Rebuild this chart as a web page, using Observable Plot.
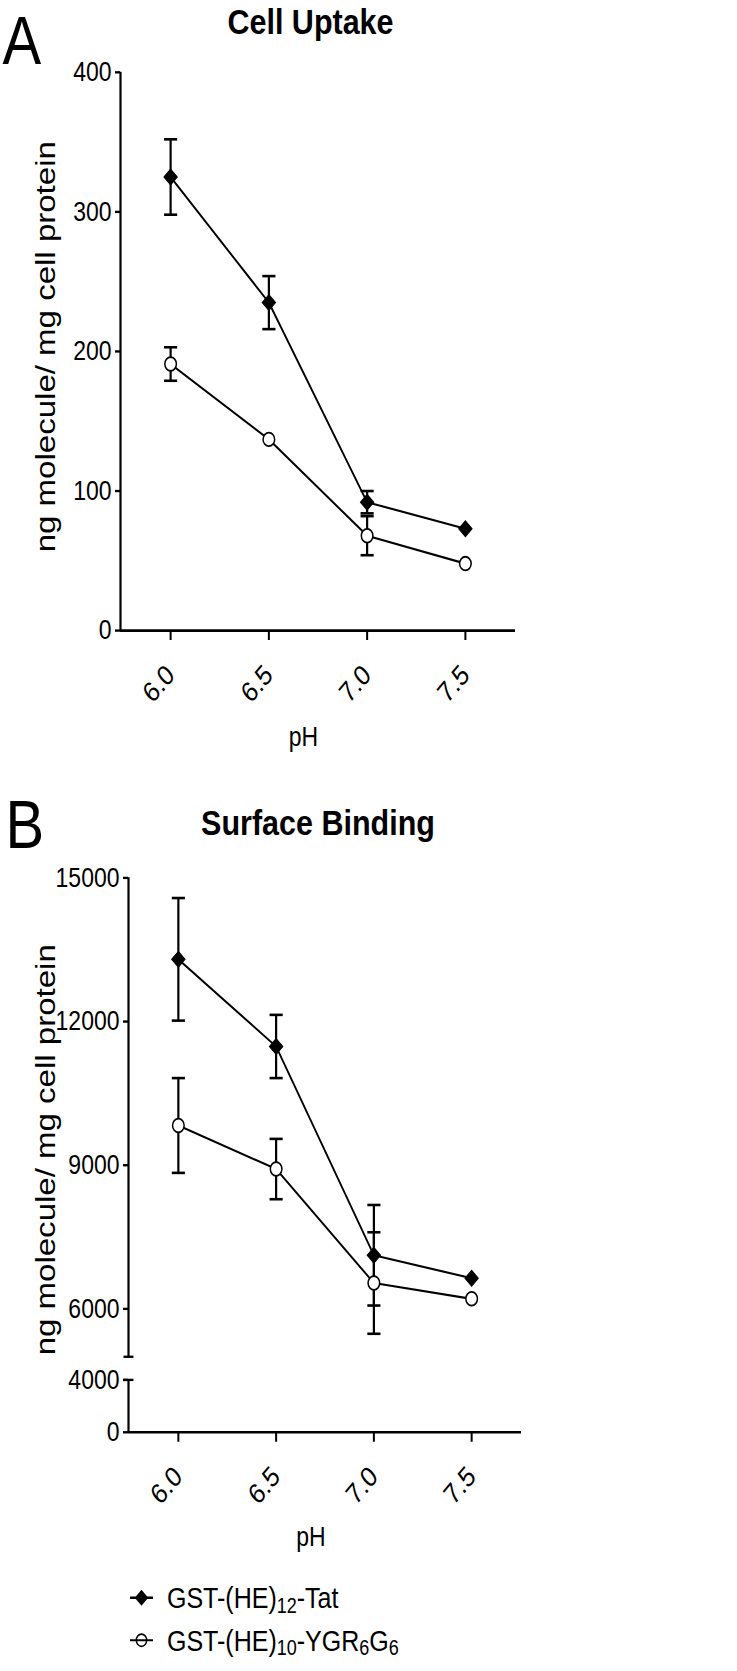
<!DOCTYPE html>
<html>
<head>
<meta charset="utf-8">
<script src="https://cdn.jsdelivr.net/npm/d3@7"></script>
<script src="https://cdn.jsdelivr.net/npm/@observablehq/plot@0.6"></script>
<style>
  html, body { margin: 0; padding: 0; background: #fff; }
  #page { position: relative; width: 737px; height: 1671px; overflow: hidden; }
  #wrap { position: absolute; left: 0; top: 0; width: 737px; height: 1416px; transform: scale(1, 1.18); transform-origin: 0 0;
          font-family: "Liberation Sans", Arial, Helvetica, sans-serif; color: #000; }
  #pa, #pb { position: absolute; left: 0; }
  #pa { top: 0; }
  #pb { top: 661px; }
  .lrow { position: absolute; left: 129px; height: 30px; display: flex; align-items: center; white-space: nowrap; color: #000; }
  .lrow span { font-size: 25px; line-height: 30px; margin-left: 13px; }
  .lrow sub { font-size: 0.72em; vertical-align: -0.22em; line-height: 0; }
  #err { position: absolute; left: 0; top: 0; color: red; font-size: 12px; }
</style>
</head>
<body>
<div id="page">
<div id="wrap">
  <div id="pa"></div>
  <div id="pb"></div>
  <div class="lrow" style="top:1339px">
    <svg width="25" height="30"><line x1="1" x2="24" y1="15" y2="15" stroke="#000" stroke-width="2"/><polygon points="12.5,8.3 19.2,15 12.5,21.7 5.8,15" fill="#000"/></svg>
    <span id="lg0"></span>
  </div>
  <div class="lrow" style="top:1375px">
    <svg width="25" height="30"><line x1="1" x2="24" y1="15" y2="15" stroke="#000" stroke-width="1.6"/><circle cx="12.5" cy="15" r="5.2" fill="none" stroke="#000" stroke-width="1.4"/></svg>
    <span id="lg1"></span>
  </div>
  <div id="err"></div>
</div>
</div>
<script>
// ---------- data ----------
const pH = [6.0, 6.5, 7.0, 7.5];
const seriesNames = ["GST-(HE)12-Tat", "GST-(HE)10-YGR6G6"];
const legendLabels = ["GST-(HE)<sub>12</sub>-Tat", "GST-(HE)<sub>10</sub>-YGR<sub>6</sub>G<sub>6</sub>"];

// Panel A: Cell Uptake (ng molecule / mg cell protein)
const uptakeTat    = [325, 235, 92, 73];
const uptakeTatErr = [27, 19, 8, 0];
const uptakeYgr    = [191, 137, 68, 48];
const uptakeYgrErr = [12, 0, 14, 0];
const uptakeTicks  = [0, 100, 200, 300, 400];

// Panel B: Surface Binding
const bindingTat    = [13300, 11480, 7120, 6640];
const bindingTatErr = [1280, 660, 1050, 0];
const bindingYgr    = [9830, 8920, 6540, 6210];
const bindingYgrErr = [990, 630, 1060, 0];
const bindingTicks  = [0, 4000, 6000, 9000, 12000, 15000];
const bindingBreak  = [4000, 5000];                 // axis gap
const bindingSegments = [[0, 4000], [5000, 15000]];
const lowerCompression = 0.2735;                    // 0–4000 segment is drawn compressed
const gapUnits = 483;                               // visual size of the gap (upper-segment units)

const titles = ["Cell Uptake", "Surface Binding"];
const letters = ["A", "B"];
const xLabel = "pH";
const yLabel = "ng molecule/ mg cell protein";
const pHDomain = [5.745, 7.755];

// ---------- helpers ----------
const FONT = '"Liberation Sans", Arial, Helvetica, sans-serif';
const capSymbol = {draw(ctx, size) { const w = Math.sqrt(size); ctx.moveTo(-w, 0); ctx.lineTo(w, 0); }};
const fmtInt = d3.format("d");

function seriesRows(vals, errs, s) {
  return pH.map((x, i) => ({pH: x, value: vals[i], err: errs[i], series: s}));
}

function dataMarks(tat, ygr) {
  const all = [...tat, ...ygr];
  const withErr = all.filter(d => d.err > 0);
  return [
    Plot.line(all, {x: "pH", y: "value", z: "series", stroke: "#000", strokeWidth: 1.8}),
    Plot.ruleX(withErr, {x: "pH", y1: d => d.value - d.err, y2: d => d.value + d.err, stroke: "#000", strokeWidth: 2.2}),
    Plot.dot(withErr, {x: "pH", y: d => d.value + d.err, symbol: capSymbol, r: 3.7, stroke: "#000", strokeWidth: 2.2, fill: "none"}),
    Plot.dot(withErr, {x: "pH", y: d => d.value - d.err, symbol: capSymbol, r: 3.7, stroke: "#000", strokeWidth: 2.2, fill: "none"}),
    Plot.dot(tat, {x: "pH", y: "value", symbol: "diamond2", r: 6, fill: "#000", stroke: "#000", strokeWidth: 1}),
    Plot.dot(ygr, {x: "pH", y: "value", symbol: "circle", r: 5.8, fill: "#fff", stroke: "#000", strokeWidth: 1.5})
  ];
}

function textMarks(i, o) {
  return [
    Plot.text([titles[i]], {text: d => d, frameAnchor: "top", textAnchor: "middle", lineAnchor: "bottom",
      dx: o.titleDx, dy: o.titleDy, fontSize: 30.5, fontWeight: "bold", fill: "#000"}),
    Plot.text([letters[i]], {text: d => d, frameAnchor: "top-left", textAnchor: "start", lineAnchor: "bottom",
      dx: o.letterDx, dy: o.letterDy, fontSize: 58, fill: "#000"}),
    Plot.text([yLabel], {text: d => d, frameAnchor: "left", textAnchor: "middle", lineAnchor: "middle", rotate: -90,
      dx: o.labelDx, dy: o.labelDy, fontSize: 28, fill: "#000"}),
    Plot.text([xLabel], {text: d => d, frameAnchor: "bottom", textAnchor: "middle", lineAnchor: "bottom",
      dx: o.xLabelDx, dy: o.xLabelDy, fontSize: 23, fill: "#000"})
  ];
}

const xAxis = () => Plot.axisX({ticks: pH, tickSize: 8.5, tickPadding: 25, tickRotate: -45,
  tickFormat: d3.format(".1f"), label: null, strokeWidth: 2, fontSize: 24});

try {
  // ---------- Panel A ----------
  const aTat = seriesRows(uptakeTat, uptakeTatErr, seriesNames[0]);
  const aYgr = seriesRows(uptakeYgr, uptakeYgrErr, seriesNames[1]);
  const chartA = Plot.plot({
    width: 737, height: 660,
    marginLeft: 120, marginRight: 222, marginTop: 60.8, marginBottom: 126.1,
    style: {fontFamily: FONT, fontSize: "23px", color: "#000", background: "transparent", overflow: "visible"},
    x: {domain: pHDomain},
    y: {domain: [0, 400]},
    marks: [
      Plot.axisY({ticks: uptakeTicks, tickSize: 5, tickPadding: 4, tickFormat: fmtInt, label: null, strokeWidth: 2, fontSize: 23}),
      xAxis(),
      Plot.ruleX([pHDomain[0]], {stroke: "#000", strokeWidth: 2.2}),
      Plot.ruleY([0], {stroke: "#000", strokeWidth: 2.2}),
      ...dataMarks(aTat, aYgr),
      ...textMarks(0, {titleDx: -7.5, titleDy: -32.8, letterDx: -118, letterDy: -7.4, labelDx: -74, labelDy: -4, xLabelDx: -14.5, xLabelDy: 97.5})
    ]
  });
  document.getElementById("pa").appendChild(chartA);
} catch (e) { document.getElementById("err").textContent += "A: " + e.message + " "; }

try {
  // ---------- Panel B (broken y axis) ----------
  const brk = d3.scaleLinear()
    .domain([0, bindingBreak[0], bindingBreak[1], 15000])
    .range([bindingBreak[1] - gapUnits - bindingBreak[0] * lowerCompression, bindingBreak[1] - gapUnits, bindingBreak[1], 15000]);
  const bTat = seriesRows(bindingTat, bindingTatErr, seriesNames[0]);
  const bYgr = seriesRows(bindingYgr, bindingYgrErr, seriesNames[1]);
  const chartB = Plot.plot({
    width: 737, height: 665,
    marginLeft: 128, marginRight: 216, marginTop: 82.5, marginBottom: 112.7,
    style: {fontFamily: FONT, fontSize: "23px", color: "#000", background: "transparent", overflow: "visible"},
    x: {domain: pHDomain},
    y: {transform: brk, domain: [brk(0), brk(15000)]},
    marks: [
      // axis ticks live in the (already transformed) scale space
      Plot.axisY({ticks: bindingTicks.map(brk), tickSize: 5, tickPadding: 4,
        tickFormat: d => fmtInt(Math.round(brk.invert(d))), label: null, strokeWidth: 2, fontSize: 23}),
      xAxis(),
      Plot.ruleX(bindingSegments, {x: () => pHDomain[0], y1: d => d[0], y2: d => d[1], stroke: "#000", strokeWidth: 2.2}),
      Plot.dot(bindingBreak, {x: () => pHDomain[0], y: d => d, symbol: capSymbol, r: 2.8, stroke: "#000", strokeWidth: 2, fill: "none"}),
      Plot.ruleY([0], {stroke: "#000", strokeWidth: 2.2}),
      ...dataMarks(bTat, bYgr),
      ...textMarks(1, {titleDx: -7, titleDy: -36.7, letterDx: -123, letterDy: -25.7, labelDx: -82, labelDy: -4.5, xLabelDx: -14, xLabelDy: 96})
    ]
  });
  document.getElementById("pb").appendChild(chartB);
} catch (e) { document.getElementById("err").textContent += "B: " + e.message + " "; }

// ---------- Legend text ----------
legendLabels.forEach((lab, i) => { document.getElementById("lg" + i).innerHTML = lab; });
</script>
</body>
</html>
